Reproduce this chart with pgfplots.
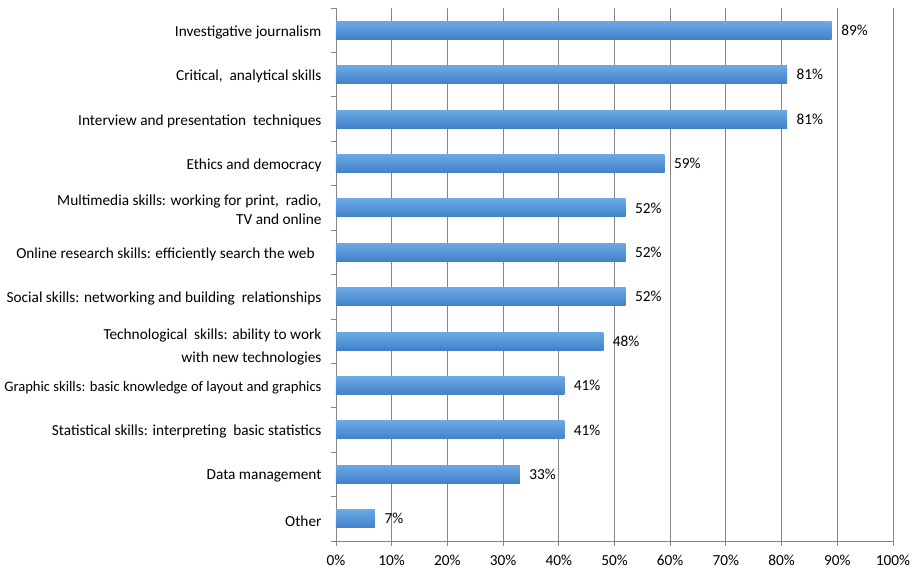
\documentclass[border=0pt]{standalone}
\usepackage{fontspec}
\setmainfont{Carlito}
\usepackage{pgfplots}
\pgfplotsset{compat=1.18}
\definecolor{barTop}{RGB}{108,168,228}
\definecolor{barBot}{RGB}{64,130,202}
\definecolor{gridGray}{RGB}{134,134,134}
\pgfplotsset{skillbar/.style={draw=none, top color=barTop, bottom color=barBot, bar shift=0pt}}
\begin{document}
\begin{tikzpicture}
\begin{axis}[
  at={(0pt,0pt)}, anchor=south west,
  scale only axis,
  width=557pt, height=533pt,
  xbar, bar width=18pt, bar shift=0pt,
  xmin=0, xmax=100,
  ymin=0.5, ymax=12.5,
  xtick={0,10,...,100},
  xticklabel={\pgfmathprintnumber{\tick}\%},
  /pgf/number format/assume math mode=true,
  ytick={1,...,12},
  yticklabels={
    Other,
    Data management,
    Statistical skills: interpreting\ \ basic statistics,
    {\fontsize{14.6}{19}\selectfont Graphic skills: basic knowledge of layout and graphics},
    {\rule{0pt}{18pt}Technological\ \ skills: ability to work\\[4pt]with new technologies},
    Social skills: networking and building\ \ relationships,
    Online research skills: efficiently search the web\ \ ,
    {Multimedia skills: working for print,\ \ radio,\ \\TV and online},
    Ethics and democracy,
    Interview and presentation\ \ techniques,
    {Critical,\ \ analytical skills},
    Investigative journalism},
  minor ytick={0.5,1.5,...,12.5},
  tick align=outside,
  major tick length=5pt,
  minor tick length=5pt,
  major y tick style={draw=none},
  minor y tick style={draw=gridGray, line width=0.8pt},
  major x tick style={draw=gridGray, line width=0.8pt},
  xmajorgrids,
  grid style={gridGray, line width=0.8pt},
  axis x line*=bottom,
  axis y line*=left,
  axis line style={gridGray, line width=0.8pt, -},
  tick label style={font=\fontsize{15.3}{19}\selectfont, text=black},
  yticklabel style={align=right, xshift=-6pt, yshift=-2pt},
  xticklabel style={yshift=-6pt},
  nodes near coords={\pgfmathprintnumber{\pgfplotspointmeta}\%},
  point meta=x,
  nodes near coords style={font=\fontsize{15.3}{18}\selectfont, text=black, xshift=6pt},
]
\addplot[skillbar] coordinates {(7,1)};
\addplot[skillbar] coordinates {(33,2)};
\addplot[skillbar] coordinates {(41,3)};
\addplot[skillbar] coordinates {(41,4)};
\addplot[skillbar] coordinates {(48,5)};
\addplot[skillbar] coordinates {(52,6)};
\addplot[skillbar] coordinates {(52,7)};
\addplot[skillbar] coordinates {(52,8)};
\addplot[skillbar] coordinates {(59,9)};
\addplot[skillbar] coordinates {(81,10)};
\addplot[skillbar] coordinates {(81,11)};
\addplot[skillbar] coordinates {(89,12)};
\end{axis}
\pgfresetboundingbox
\path[use as bounding box] (-336pt,-28pt) rectangle (583pt,541pt);
\end{tikzpicture}
\end{document}
